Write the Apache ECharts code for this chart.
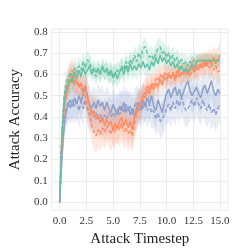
<!DOCTYPE html>
<html><head><meta charset="utf-8">
<script src="https://cdn.jsdelivr.net/npm/echarts@6/dist/echarts.min.js"></script>
<style>html,body{margin:0;padding:0;background:#fff}#c{width:240px;height:252px}</style>
</head><body><div id="c"></div>
<script>
// time steps 0.0 .. 15.0 every 0.2
var steps = [];
for (var i = 0; i <= 75; i++) steps.push(Math.round(i * 2) / 10);

var xTicks = [0, 2.5, 5, 7.5, 10, 12.5, 15];
var yTicks = [0, 0.1, 0.2, 0.3, 0.4, 0.5, 0.6, 0.7, 0.8];

var greenSolid = [0,0.30,0.46,0.53,0.55,0.58,0.56,0.61,0.58,0.62,0.59,0.63,0.60,0.62,0.64,0.60,0.63,0.61,0.63,0.60,0.64,0.61,0.63,0.60,0.62,0.59,0.61,0.58,0.61,0.63,0.60,0.64,0.61,0.65,0.62,0.64,0.62,0.65,0.63,0.66,0.63,0.65,0.62,0.66,0.64,0.68,0.65,0.69,0.66,0.68,0.65,0.67,0.64,0.66,0.63,0.65,0.62,0.64,0.61,0.63,0.61,0.63,0.65,0.63,0.66,0.665,0.665,0.665,0.665,0.665,0.665,0.665,0.665,0.665,0.665,0.665];
var greenDashed = [0,0.33,0.49,0.56,0.58,0.61,0.57,0.63,0.61,0.64,0.62,0.66,0.63,0.67,0.65,0.63,0.61,0.59,0.62,0.60,0.63,0.61,0.62,0.59,0.61,0.58,0.60,0.62,0.61,0.64,0.62,0.66,0.63,0.67,0.65,0.69,0.66,0.70,0.68,0.72,0.73,0.70,0.68,0.69,0.67,0.70,0.72,0.73,0.70,0.71,0.68,0.70,0.67,0.69,0.66,0.68,0.65,0.67,0.65,0.66,0.64,0.66,0.65,0.67,0.66,0.665,0.665,0.665,0.665,0.665,0.665,0.665,0.665,0.665,0.665,0.665];
var orangeSolid = [0,0.28,0.43,0.50,0.54,0.57,0.60,0.55,0.57,0.54,0.56,0.52,0.55,0.50,0.45,0.41,0.43,0.39,0.41,0.37,0.40,0.36,0.39,0.36,0.38,0.34,0.37,0.35,0.38,0.40,0.36,0.39,0.35,0.38,0.34,0.40,0.42,0.46,0.45,0.50,0.49,0.53,0.51,0.55,0.53,0.56,0.54,0.58,0.55,0.59,0.57,0.60,0.58,0.61,0.58,0.62,0.59,0.61,0.60,0.63,0.60,0.62,0.64,0.61,0.64,0.62,0.65,0.63,0.66,0.64,0.67,0.65,0.68,0.65,0.67,0.69];
var orangeDashed = [0,0.30,0.46,0.53,0.56,0.60,0.62,0.57,0.58,0.54,0.55,0.50,0.51,0.45,0.41,0.36,0.33,0.31,0.34,0.32,0.35,0.33,0.36,0.34,0.32,0.35,0.33,0.36,0.34,0.37,0.33,0.35,0.32,0.34,0.31,0.37,0.41,0.44,0.47,0.50,0.52,0.55,0.53,0.56,0.55,0.58,0.57,0.60,0.58,0.61,0.59,0.61,0.58,0.60,0.57,0.60,0.62,0.59,0.61,0.60,0.62,0.59,0.62,0.64,0.62,0.65,0.63,0.66,0.64,0.66,0.63,0.65,0.62,0.64,0.61,0.62];
var blueSolid = [0,0.20,0.35,0.42,0.46,0.48,0.45,0.49,0.46,0.50,0.47,0.51,0.54,0.49,0.46,0.44,0.47,0.44,0.48,0.45,0.47,0.43,0.47,0.44,0.42,0.46,0.43,0.41,0.45,0.43,0.47,0.42,0.45,0.41,0.44,0.40,0.44,0.47,0.43,0.48,0.45,0.49,0.46,0.50,0.45,0.43,0.48,0.45,0.42,0.47,0.51,0.53,0.49,0.52,0.54,0.50,0.53,0.49,0.52,0.55,0.57,0.52,0.50,0.52,0.54,0.51,0.49,0.53,0.55,0.51,0.54,0.57,0.52,0.50,0.53,0.51];
var blueDashed = [0,0.22,0.37,0.44,0.47,0.44,0.48,0.45,0.47,0.43,0.47,0.44,0.48,0.44,0.41,0.43,0.40,0.42,0.39,0.41,0.38,0.41,0.39,0.42,0.40,0.42,0.40,0.44,0.41,0.45,0.42,0.46,0.43,0.45,0.41,0.45,0.47,0.43,0.48,0.44,0.47,0.43,0.46,0.42,0.43,0.39,0.42,0.38,0.39,0.41,0.44,0.46,0.43,0.47,0.44,0.48,0.45,0.49,0.46,0.43,0.44,0.46,0.48,0.45,0.49,0.46,0.44,0.48,0.45,0.43,0.46,0.42,0.44,0.41,0.44,0.46];

// half-width of the shaded bands (per colour)
var greenSpread = [0,0.04,0.05,0.05,0.05,0.05,0.05,0.05,0.045,0.045,0.045,0.045,0.045,0.045,0.045,0.04,0.04,0.04,0.04,0.04,0.04,0.04,0.04,0.04,0.045,0.045,0.045,0.045,0.045,0.045,0.045,0.045,0.045,0.045,0.045,0.045,0.045,0.045,0.045,0.045,0.045,0.045,0.045,0.045,0.045,0.045,0.045,0.045,0.045,0.045,0.04,0.04,0.04,0.04,0.04,0.04,0.04,0.04,0.04,0.04,0.04,0.04,0.04,0.035,0.035,0.03,0.03,0.03,0.03,0.03,0.03,0.03,0.03,0.03,0.03,0.03];
var orangeSpread = [0,0.05,0.06,0.06,0.06,0.06,0.06,0.06,0.06,0.06,0.06,0.065,0.065,0.07,0.07,0.075,0.08,0.08,0.08,0.08,0.08,0.08,0.08,0.08,0.08,0.08,0.08,0.08,0.08,0.08,0.08,0.08,0.08,0.08,0.08,0.08,0.075,0.07,0.07,0.06,0.06,0.055,0.055,0.05,0.05,0.05,0.05,0.045,0.045,0.045,0.045,0.045,0.045,0.045,0.045,0.045,0.045,0.045,0.045,0.045,0.045,0.045,0.045,0.045,0.05,0.05,0.05,0.05,0.05,0.05,0.055,0.055,0.055,0.06,0.06,0.06];
var blueSpread = [0,0.05,0.07,0.08,0.08,0.08,0.08,0.08,0.08,0.08,0.08,0.08,0.08,0.08,0.08,0.08,0.08,0.08,0.08,0.08,0.08,0.08,0.08,0.08,0.08,0.08,0.08,0.08,0.08,0.08,0.08,0.08,0.08,0.08,0.08,0.08,0.08,0.08,0.08,0.08,0.08,0.08,0.08,0.08,0.08,0.08,0.08,0.08,0.08,0.08,0.08,0.08,0.08,0.08,0.08,0.08,0.08,0.08,0.08,0.08,0.08,0.08,0.08,0.08,0.08,0.08,0.08,0.08,0.08,0.08,0.08,0.08,0.08,0.08,0.08,0.08];

var GREEN = '#66c2a5', ORANGE = '#fc8d62', BLUE = '#8da0cb';
var FONT = 'Liberation Serif';

function pairs(arr) { return steps.map(function (t, i) { return [t, arr[i]]; }); }

var series = [];
function band(mean, spread, color) {
  series.push({
    type: 'custom', silent: true, z: 1, clip: true,
    data: [[0, 0]],
    encode: { x: 0, y: 1 },
    renderItem: function (params, api) {
      var pts = [];
      for (var i = 0; i < steps.length; i++) pts.push(api.coord([steps[i], mean[i] + spread[i]]));
      for (var j = steps.length - 1; j >= 0; j--) pts.push(api.coord([steps[j], mean[j] - spread[j]]));
      return { type: 'polygon', shape: { points: pts }, style: { fill: color, opacity: 0.2 } };
    }
  });
}
band(greenSolid, greenSpread, GREEN);
band(greenDashed, greenSpread, GREEN);
band(blueSolid, blueSpread, BLUE);
band(blueDashed, blueSpread, BLUE);
band(orangeSolid, orangeSpread, ORANGE);
band(orangeDashed, orangeSpread, ORANGE);

function line(arr, color, dashed) {
  series.push({ type: 'line', data: pairs(arr), symbol: 'none', z: 3,
    lineStyle: { color: color, width: 1.5, type: dashed ? [4, 2] : 'solid' } });
}
line(blueSolid, BLUE, false);
line(blueDashed, BLUE, true);
line(orangeSolid, ORANGE, false);
line(orangeDashed, ORANGE, true);
line(greenSolid, GREEN, false);
line(greenDashed, GREEN, true);

var chart = echarts.init(document.getElementById('c'), null, { renderer: 'canvas' });
chart.setOption({
  animation: false,
  backgroundColor: '#ffffff',
  grid: { left: 32, right: 12, top: 29, bottom: 33, show: true, borderColor: '#ebebeb', borderWidth: 1 },
  xAxis: {
    type: 'value', min: -0.75, max: 15.75,
    name: 'Attack Timestep', nameLocation: 'middle', nameGap: 16,
    nameTextStyle: { fontFamily: FONT, fontSize: 15, color: '#222' },
    axisLine: { show: false }, axisTick: { show: false, customValues: xTicks },
    axisLabel: { customValues: xTicks, fontFamily: FONT, fontSize: 11, color: '#333', margin: 6,
      formatter: function (v) { return v.toFixed(1); } },
    splitLine: { show: true, lineStyle: { color: '#ebebeb', width: 1 } }
  },
  yAxis: {
    type: 'value', min: -0.037, max: 0.813,
    name: 'Attack Accuracy', nameLocation: 'middle', nameGap: 23,
    nameTextStyle: { fontFamily: FONT, fontSize: 15, color: '#222' },
    axisLine: { show: false }, axisTick: { show: false, customValues: yTicks },
    axisLabel: { customValues: yTicks, fontFamily: FONT, fontSize: 11, color: '#333', margin: 4,
      formatter: function (v) { return v.toFixed(1); } },
    splitLine: { show: true, lineStyle: { color: '#ebebeb', width: 1 } }
  },
  series: series
});
</script></body></html>
